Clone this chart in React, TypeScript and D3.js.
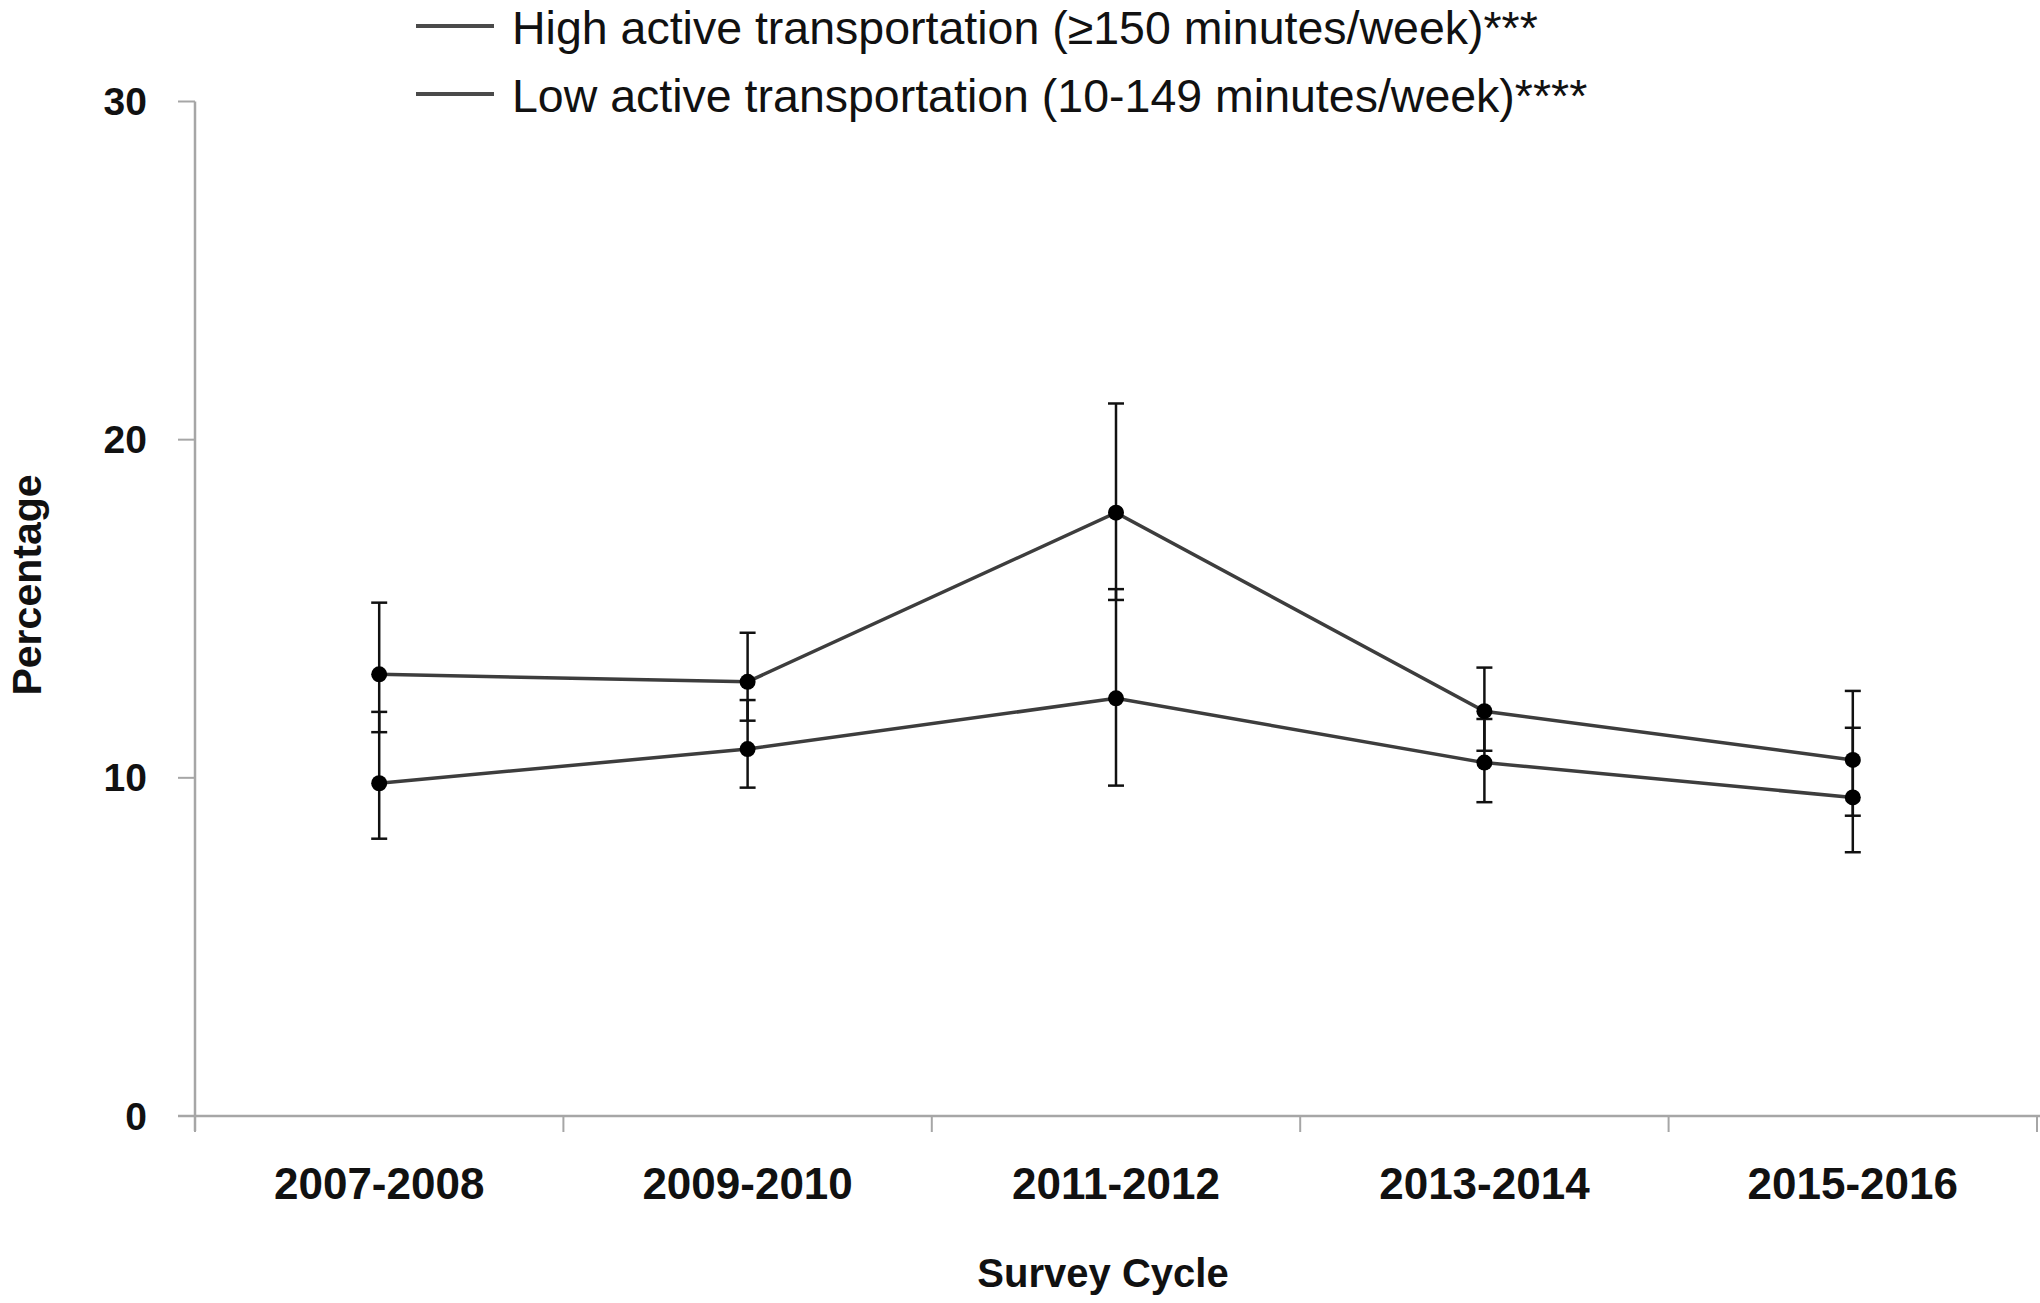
import React from 'react';
import * as d3 from 'd3';

const cycles = ['2007-2008', '2009-2010', '2011-2012', '2013-2014', '2015-2016'];
const seriesNames = [
  'High active transportation (≥150 minutes/week)***',
  'Low active transportation (10-149 minutes/week)****',
];
const highValues = [13.06, 12.84, 17.84, 11.97, 10.53];
const highLower = [11.35, 11.69, 15.26, 10.8, 8.88];
const highUpper = [15.18, 14.29, 21.07, 13.26, 12.57];
const lowValues = [9.84, 10.85, 12.35, 10.45, 9.42];
const lowLower = [8.2, 9.71, 9.77, 9.28, 7.8];
const lowUpper = [11.95, 12.3, 15.58, 11.74, 11.48];
const yTicks = [0, 10, 20, 30];

const W = 2040;
const H = 1303;
const font = '"Liberation Sans", Arial, sans-serif';

export default function App() {
  const x = d3.scaleBand<string>().domain(cycles).range([195, 2037]).padding(0);
  const y = d3.scaleLinear().domain([0, 30]).range([1116, 101.5]);
  const cx = (c: string) => (x(c) as number) + x.bandwidth() / 2;

  const series = [
    { name: seriesNames[0], v: highValues, lo: highLower, hi: highUpper },
    { name: seriesNames[1], v: lowValues, lo: lowLower, hi: lowUpper },
  ];
  const line = d3
    .line<number>()
    .x((_, i) => cx(cycles[i]))
    .y((d) => y(d));

  const boundaries = [...cycles.map((c) => x(c) as number), 2037];

  return (
    <svg
      width={W}
      height={H}
      style={{ position: 'absolute', left: 0, top: 0, background: '#fff' }}
      fontFamily={font}
    >
      <rect x={0} y={0} width={W} height={H} fill="#fff" />
      {/* Y axis */}
      <line x1={195} x2={195} y1={y(30)} y2={1131} stroke="#a6a6a6" strokeWidth={2.5} />
      {yTicks.map((t) => (
        <g key={t}>
          <line x1={178} x2={195} y1={y(t)} y2={y(t)} stroke="#a6a6a6" strokeWidth={2} />
          <text
            x={147}
            y={y(t)}
            textAnchor="end"
            dominantBaseline="central"
            fontSize={39}
            fontWeight="bold"
            fill="#111"
          >
            {t}
          </text>
        </g>
      ))}
      {/* X axis */}
      <line x1={178} x2={2040} y1={y(0)} y2={y(0)} stroke="#a6a6a6" strokeWidth={2.5} />
      {boundaries.map((b, i) => (
        <line key={i} x1={b} x2={b} y1={y(0)} y2={y(0) + 16} stroke="#a6a6a6" strokeWidth={2} />
      ))}
      {cycles.map((c) => (
        <text
          key={c}
          x={cx(c)}
          y={1183}
          textAnchor="middle"
          dominantBaseline="central"
          fontSize={44}
          fontWeight="bold"
          fill="#111"
        >
          {c}
        </text>
      ))}
      <text x={1103} y={1273} textAnchor="middle" dominantBaseline="central" fontSize={40} fontWeight="bold" fill="#111">
        Survey Cycle
      </text>
      <text
        transform={`translate(27,585) rotate(-90)`}
        textAnchor="middle"
        dominantBaseline="central"
        fontSize={41}
        fontWeight="bold"
        fill="#111"
      >
        Percentage
      </text>

      {/* lines */}
      {series.map((s, si) => (
        <path key={si} d={line(s.v) as string} fill="none" stroke="#3d3d3d" strokeWidth={3.5} />
      ))}
      {/* error bars */}
      {series.map((s, si) =>
        cycles.map((c, i) => {
          const px = cx(c);
          return (
            <g key={`${si}-${i}`} stroke="#111" strokeWidth={2.5}>
              <line x1={px} x2={px} y1={y(s.lo[i])} y2={y(s.hi[i])} />
              <line x1={px - 8} x2={px + 8} y1={y(s.lo[i])} y2={y(s.lo[i])} />
              <line x1={px - 8} x2={px + 8} y1={y(s.hi[i])} y2={y(s.hi[i])} />
            </g>
          );
        })
      )}
      {/* markers */}
      {series.map((s, si) =>
        s.v.map((v, i) => <circle key={`${si}-${i}`} cx={cx(cycles[i])} cy={y(v)} r={8} fill="#000" />)
      )}

      {/* legend */}
      {series.map((s, si) => (
        <g key={si} transform={`translate(0,${26 + si * 68})`}>
          <line x1={416} x2={494} y1={0} y2={0} stroke="#4a4a4a" strokeWidth={4} />
          <text x={512} y={2} dominantBaseline="central" fontSize={46.5} fill="#111">
            {s.name}
          </text>
        </g>
      ))}
    </svg>
  );
}
